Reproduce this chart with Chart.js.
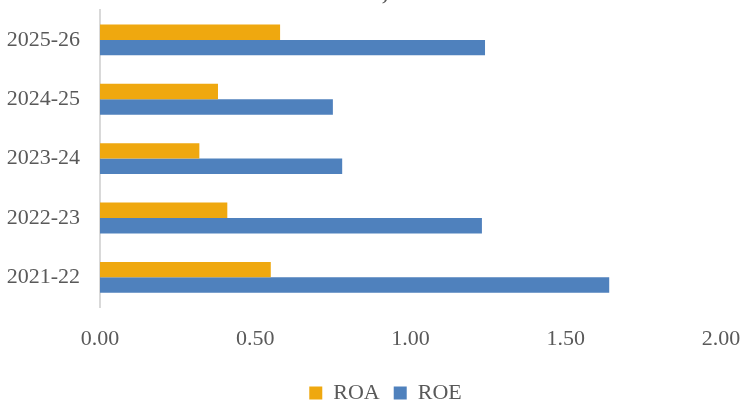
<!DOCTYPE html>
<html lang="en">
<head>
    <meta charset="UTF-8">
    <title>ROE, ROA</title>
    <script src="https://cdn.jsdelivr.net/npm/chart.js"></script>
    <style>
        html, body {
            margin: 0;
            background: #ffffff;
            overflow: hidden;
        }
        /* shifted so the title sits mostly above the visible page, like the source */
        #wrap {
            position: absolute;
            left: 7px;
            top: -23px;
            width: 743px;
            height: 437px;
        }
    </style>
</head>
<body>
<div id="wrap">
    <canvas id="ratioChart"></canvas>
</div>
<script>
// years listed top to bottom as in the picture
const years = ['2025-26', '2024-25', '2023-24', '2022-23', '2021-22'];
const roa = [0.58, 0.38, 0.32, 0.41, 0.55];
const roe = [1.24, 0.75, 0.78, 1.23, 1.64];

const textGrey = '#595959';
const serif = "'Liberation Serif', serif";

new Chart(document.getElementById('ratioChart'), {
    type: 'bar',
    data: {
        labels: years,
        datasets: [
            { label: 'ROA', data: roa, backgroundColor: '#EFA80F' },
            { label: 'ROE', data: roe, backgroundColor: '#4F81BD' }
        ]
    },
    options: {
        indexAxis: 'y',
        responsive: true,
        maintainAspectRatio: false,
        animation: false,
        datasets: {
            bar: { barPercentage: 1, categoryPercentage: 0.52 }
        },
        layout: { padding: { left: 0, right: -14, bottom: 0 } },
        plugins: {
            title: {
                display: true,
                text: 'ROE,ROA',
                color: textGrey,
                font: { family: serif, size: 22, weight: 'bold' },
                padding: { top: 0, bottom: 2.5 }
            },
            legend: {
                position: 'bottom',
                labels: {
                    color: textGrey,
                    font: { family: serif, size: 22 },
                    boxWidth: 13,
                    boxHeight: 13,
                    padding: 14
                }
            },
            tooltip: { enabled: false }
        },
        scales: {
            x: {
                min: 0,
                max: 2,
                ticks: {
                    stepSize: 0.5,
                    color: textGrey,
                    font: { family: serif, size: 22 },
                    padding: 19,
                    callback: v => v.toFixed(2)
                },
                grid: { display: false, drawTicks: false },
                border: { display: false },
                afterFit: s => { s.height = 61; s.paddingRight = 29; }
            },
            y: {
                ticks: {
                    color: textGrey,
                    font: { family: serif, size: 22 },
                    padding: 20
                },
                grid: { display: false, drawTicks: false },
                border: { display: true, color: '#d9d9d9', width: 2 },
                afterFit: s => { s.width = 93; }
            }
        }
    }
});
</script>
</body>
</html>
